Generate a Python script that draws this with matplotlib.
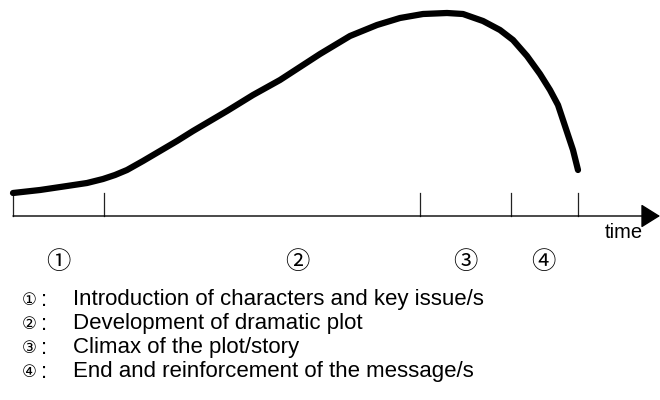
import matplotlib.pyplot as plt

# curva de tension dramatica (tiempo, intensidad)
tiempo = [0, 27, 54, 74, 90, 102, 114, 130, 147, 164, 180, 197, 214, 240,
          267, 287, 307, 337, 364, 387, 410, 434, 450, 470, 487, 500, 514,
          527, 537, 545, 550, 555, 560, 565]
intensidad = [23, 26, 30, 33, 37, 41, 46, 55, 65, 75, 85, 95, 105, 121,
              136, 149, 162, 180, 191, 198, 202, 203, 202, 195, 186, 176, 160,
              142, 126, 111, 96, 81, 66, 46]

# limites de las fases sobre el eje del tiempo
limites = [0, 91, 407, 498, 565]
posEtiquetas = [45, 284, 452, 530]
marcas = ['\u2460', '\u2461', '\u2462', '\u2463']
descripciones = [
    'Introduction of characters and key issue/s',
    'Development of dramatic plot',
    'Climax of the plot/story',
    'End and reinforcement of the message/s',
]

fig = plt.figure(figsize=(6.6, 4.0), dpi=100)
ax = fig.add_axes([0, 0, 1, 1])
ax.set_xlim(-13, 647)
ax.set_ylim(-184, 216)
ax.axis('off')

# eje del tiempo con flecha
ax.annotate('', xy=(647, 0), xytext=(0, 0),
            arrowprops=dict(arrowstyle='-|>,head_length=0.4,head_width=0.25',
                            mutation_scale=30, lw=1.0, color='black',
                            shrinkA=0, shrinkB=0))
for t in limites:
    ax.plot([t, t], [0, 23], color='#222222', lw=0.9)

ax.plot(tiempo, intensidad, color='black', lw=4.5,
        solid_capstyle='round', solid_joinstyle='round')

ax.text(611, -17, 'time', fontsize=14.5, family='Liberation Sans',
        ha='center', va='center')

for x, m in zip(posEtiquetas, marcas):
    ax.text(x, -46, m, fontsize=17.5, family=['Noto Sans CJK JP', 'DejaVu Sans'],
            ha='center', va='center')

for i, (m, d) in enumerate(zip(marcas, descripciones)):
    y = 1 - (300 + 24 * i) / 400
    fig.text(29 / 660, y, m, fontsize=12, family=['DejaVu Sans'],
             ha='center', va='center')
    fig.text(41 / 660, y, ':', fontsize=16, family='Liberation Sans',
             ha='left', va='center')
    fig.text(73 / 660, y, d, fontsize=16, family='Liberation Sans',
             ha='left', va='center')

fig.savefig('out.png', dpi=100)
